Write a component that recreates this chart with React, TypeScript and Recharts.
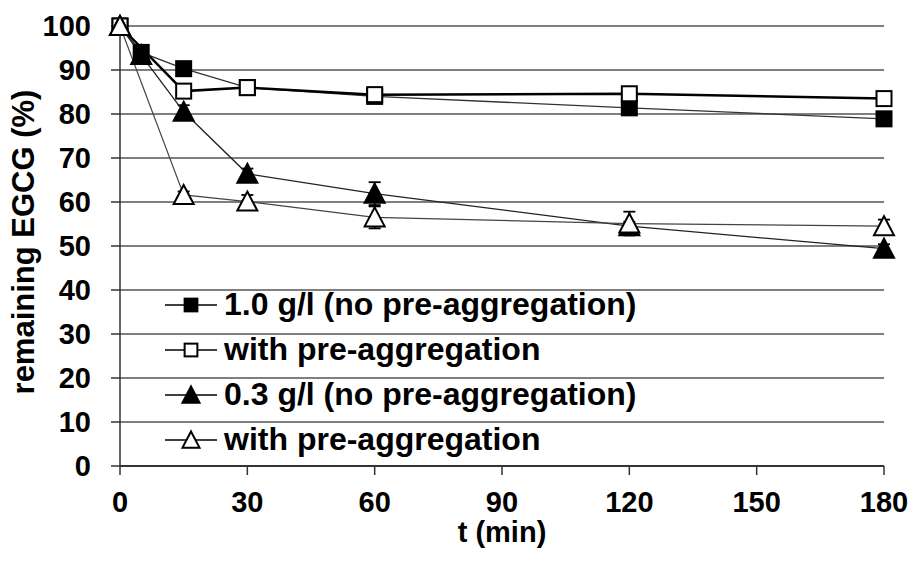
import React from 'react';
import { LineChart, Line, XAxis, YAxis, CartesianGrid, ErrorBar, Legend, Label } from 'recharts';

const timesNoPre = [0, 5, 15, 30, 60, 120, 180];
const timesPre = [0, 15, 30, 60, 120, 180];
const timeTicks = [0, 30, 60, 90, 120, 150, 180];
const pctTicks = [0, 10, 20, 30, 40, 50, 60, 70, 80, 90, 100];

const highNoPre = [100, 94, 90.3, 86, 84.0, 81.4, 78.9];
const highNoPreErr = [0, 0.5, 0.8, 0.5, 0.5, 0.8, 0.8];
const highPre = [100, 85.2, 86, 84.4, 84.6, 83.5];
const highPreErr = [0, 0.8, 0.6, 0.5, 0.6, 0.6];
const lowNoPre = [100, 93.4, 80.5, 66.4, 61.9, 54.5, 49.4];
const lowNoPreErr = [0, 0.8, 1.5, 1.2, 2.6, 1.0, 1.0];
const lowPre = [100, 61.6, 60.1, 56.5, 55.1, 54.5];
const lowPreErr = [0, 0.8, 1.5, 2.5, 2.7, 1.5];

const seriesNames = [
  '1.0 g/l (no pre-aggregation)',
  'with pre-aggregation',
  '0.3 g/l (no pre-aggregation)',
  'with pre-aggregation',
];

const build = (times: number[], vals: number[], errs: number[]) =>
  times.map((t, i) => ({ t, v: vals[i], e: errs[i] }));

const FONT = "'Liberation Sans', Arial, sans-serif";

type Shape = 'square' | 'triangle';

const series: { data: any[]; shape: Shape; fill: string; stroke: string; sw: number }[] = [
  { data: build(timesNoPre, highNoPre, highNoPreErr), shape: 'square', fill: '#000', stroke: '#333', sw: 1.3 },
  { data: build(timesPre, highPre, highPreErr), shape: 'square', fill: '#fff', stroke: '#000', sw: 2.5 },
  { data: build(timesNoPre, lowNoPre, lowNoPreErr), shape: 'triangle', fill: '#000', stroke: '#222', sw: 1.3 },
  { data: build(timesPre, lowPre, lowPreErr), shape: 'triangle', fill: '#fff', stroke: '#444', sw: 1.2 },
];

function Marker({ cx, cy, shape, fill, s = 1 }: { cx: number; cy: number; shape: Shape; fill: string; s?: number }) {
  if (shape === 'square') {
    const h = 7.5 * s;
    return <rect x={cx - h} y={cy - h} width={2 * h} height={2 * h} fill={fill} stroke="#000" strokeWidth={2} />;
  }
  const w = 10 * s;
  return (
    <polygon
      points={`${cx},${cy - 10 * s} ${cx + w},${cy + 9 * s} ${cx - w},${cy + 9 * s}`}
      fill={fill}
      stroke="#000"
      strokeWidth={2}
      strokeLinejoin="miter"
    />
  );
}

const makeDot = (shape: Shape, fill: string) => (props: any) => {
  const { cx, cy, index } = props;
  if (cx == null || cy == null) return <g key={`d${index}`} />;
  return (
    <g key={`d${index}`}>
      <Marker cx={cx} cy={cy} shape={shape} fill={fill} />
    </g>
  );
};

const renderLegend = () => (
  <div style={{ fontFamily: FONT, fontWeight: 'bold', fontSize: 32, color: '#000' }}>
    {series.map((s, i) => (
      <div key={i} style={{ height: 45, display: 'flex', alignItems: 'center', whiteSpace: 'nowrap' }}>
        <svg width={58} height={30} style={{ display: 'block', marginRight: 3 }}>
          <line x1={2} y1={15} x2={54} y2={15} stroke="#000" strokeWidth={1.5} />
          <Marker cx={28} cy={15} shape={s.shape} fill={s.fill} s={0.85} />
        </svg>
        <span style={{ lineHeight: '45px' }}>{seriesNames[i]}</span>
      </div>
    ))}
  </div>
);

const YTitle = (props: any) => {
  const vb = props.viewBox || { y: 26, height: 440 };
  const cy = vb.y + vb.height / 2 - 4;
  const x = 34;
  return (
    <text
      x={x}
      y={cy}
      transform={`rotate(-90, ${x}, ${cy})`}
      textAnchor="middle"
      fontFamily={FONT}
      fontWeight="bold"
      fontSize={31}
      fill="#000"
    >
      remaining EGCG (%)
    </text>
  );
};

const XTitle = (props: any) => {
  const vb = props.viewBox || { x: 120, width: 764 };
  const cx = vb.x + vb.width / 2;
  return (
    <text x={cx} y={542} textAnchor="middle" fontFamily={FONT} fontWeight="bold" fontSize={29} fill="#000">
      t (min)
    </text>
  );
};

export default function App() {
  const tickStyle = { fill: '#000', fontSize: 29, fontWeight: 'bold', fontFamily: FONT } as any;
  return (
    <div style={{ width: 911, height: 561, background: '#fff', position: 'relative' }}>
      <style>{'body{margin:0;background:#fff}'}</style>
      <LineChart width={911} height={561} margin={{ top: 26, right: 27, bottom: 0, left: 0 }}>
        <CartesianGrid horizontal vertical={false} stroke="#555" strokeWidth={1.3} />
        <XAxis
          type="number"
          dataKey="t"
          domain={[0, 180]}
          ticks={timeTicks}
          allowDuplicatedCategory={false}
          height={95}
          tick={tickStyle}
          tickSize={9}
          tickMargin={16}
          axisLine={{ stroke: '#333', strokeWidth: 2 }}
          tickLine={{ stroke: '#333', strokeWidth: 1.5 }}
        >
          <Label content={<XTitle />} />
        </XAxis>
        <YAxis
          type="number"
          dataKey="v"
          domain={[0, 100]}
          ticks={pctTicks}
          width={120}
          tick={tickStyle}
          tickSize={9}
          tickMargin={20}
          axisLine={{ stroke: '#333', strokeWidth: 1.5 }}
          tickLine={{ stroke: '#333', strokeWidth: 1.5 }}
        >
          <Label content={<YTitle />} />
        </YAxis>
        {series.map((s, i) => (
          <Line
            key={i}
            data={s.data}
            dataKey="v"
            type="linear"
            stroke={s.stroke}
            strokeWidth={s.sw}
            dot={makeDot(s.shape, s.fill)}
            activeDot={false}
            isAnimationActive={false}
          >
            <ErrorBar dataKey="e" direction="y" width={6} stroke="#000" strokeWidth={1.8} isAnimationActive={false} />
          </Line>
        ))}
        <Legend
          layout="horizontal"
          verticalAlign="middle"
          align="center"
          content={renderLegend}
          wrapperStyle={{ position: 'absolute', left: 163, top: 282, width: 'auto', height: 'auto' }}
        />
      </LineChart>
    </div>
  );
}
